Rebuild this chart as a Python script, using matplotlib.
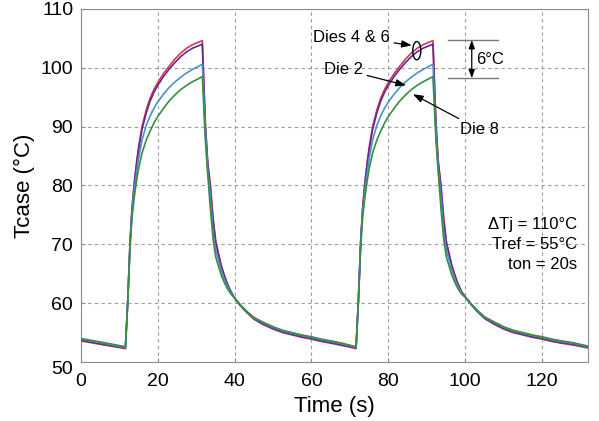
"""Case temperature of the dies during two power cycles (ton = 20 s)."""

import matplotlib

matplotlib.use("Agg")
import matplotlib.pyplot as plt
import matplotlib.transforms as mtransforms
from matplotlib.patches import Ellipse

plt.rcParams["font.family"] = ["Liberation Sans", "DejaVu Sans"]

# Colors
_RED = "#d8345a"
_PURPLE = "#5a2d8e"
_BLUE = "#4b93c6"
_GREEN = "#3a8c3e"
_GRID = "#9a9a9a"
_SPINE = "#8c8c8c"

# time (s)
time_s = [
    0, 6, 11.6, 12.2, 12.8, 13.3, 13.9, 14.5, 15.0, 15.9, 17.0, 18.0, 19.0, 20.0, 21.5,
    22.9, 24.5, 26.0, 27.5, 29.0, 30.5, 31.6, 32.0, 32.4, 33.0, 33.7, 34.4, 35.1, 36.5,
    37.2, 38.0, 39.0, 40.2, 41.5, 43, 45, 47, 50, 52.5, 55, 57.5, 60, 62.5, 65, 68,
    71.6, 72.2, 72.8, 73.3, 73.9, 74.5, 75.0, 75.9, 77, 78, 79, 80, 81.5, 82.9, 84.5,
    86, 87.5, 89, 90.5, 91.6, 92.0, 92.4, 93.0, 93.7, 94.4, 95.1, 96.5, 97.2, 98, 99,
    100.2, 101.5, 103, 105, 107, 110, 112.5, 115, 117.5, 120, 122.5, 125, 128, 132,
]

# Tcase (°C) per die
die_red = [
    53.6, 52.9, 52.3, 60.5, 70.5, 76.0, 80.5, 84.0, 86.5, 90.0, 92.8, 94.8, 96.3, 97.5, 99.0,
    100.2, 101.5, 102.5, 103.3, 103.9, 104.3, 104.6, 97.5, 90.5, 84.0, 80.0, 74.5, 70.5, 66.5,
    65.0, 63.5, 62.0, 60.7, 59.6, 58.5, 57.3, 56.5, 55.6, 55.0, 54.6, 54.2, 53.9, 53.5, 53.2, 52.8,
    52.3, 60.5, 70.5, 76.0, 80.5, 84.0, 86.5, 90.0, 92.8, 94.8, 96.3, 97.5, 99.0, 100.2, 101.5,
    102.5, 103.3, 103.9, 104.3, 104.6, 97.5, 90.5, 84.0, 80.0, 74.5, 70.5, 66.5, 65.0, 63.5, 62.0,
    60.9, 59.8, 58.7, 57.4, 56.6, 55.6, 55.0, 54.6, 54.2, 53.9, 53.5, 53.2, 52.9, 52.4,
]
die_purple = [
    53.7, 53.0, 52.4, 60.5, 70.5, 76.0, 80.3, 83.6, 86.0, 89.5, 92.3, 94.3, 95.8, 97.0, 98.5,
    99.7, 100.9, 101.9, 102.7, 103.3, 103.7, 104.0, 97.0, 90.0, 83.7, 79.6, 74.0, 70.2, 66.3,
    64.9, 63.4, 62.0, 60.7, 59.6, 58.6, 57.4, 56.6, 55.7, 55.1, 54.7, 54.3, 54.0, 53.6, 53.3, 52.9,
    52.4, 60.5, 70.5, 76.0, 80.3, 83.6, 86.0, 89.5, 92.3, 94.3, 95.8, 97.0, 98.5, 99.7, 100.9,
    101.9, 102.7, 103.3, 103.7, 104.0, 97.0, 90.0, 83.7, 79.6, 74.0, 70.2, 66.3, 64.9, 63.4, 62.0,
    60.9, 59.8, 58.7, 57.5, 56.7, 55.7, 55.1, 54.7, 54.3, 54.0, 53.6, 53.3, 53.0, 52.5,
]
die_blue = [
    53.9, 53.2, 52.5, 60.3, 70.0, 75.5, 79.2, 82.2, 84.5, 87.7, 90.2, 91.8, 93.1, 94.2, 95.5,
    96.6, 97.6, 98.4, 99.1, 99.7, 100.2, 100.6, 95.0, 89.0, 82.8, 78.0, 72.0, 69.0, 65.6,
    64.3, 63.0, 61.8, 60.7, 59.7, 58.7, 57.5, 56.8, 55.9, 55.3, 54.9, 54.5, 54.2, 53.8, 53.5, 53.1,
    52.5, 60.3, 70.0, 75.5, 79.2, 82.2, 84.5, 87.7, 90.2, 91.8, 93.1, 94.2, 95.5, 96.6, 97.6,
    98.4, 99.1, 99.7, 100.2, 100.6, 95.0, 89.0, 82.8, 78.0, 72.0, 69.0, 65.6, 64.3, 63.0, 61.8,
    60.9, 59.9, 58.8, 57.6, 56.9, 55.9, 55.3, 54.9, 54.5, 54.2, 53.8, 53.5, 53.2, 52.6,
]
die_green = [
    54.0, 53.3, 52.6, 60.0, 69.5, 74.5, 78.0, 80.8, 82.8, 85.5, 87.7, 89.2, 90.6, 91.7, 93.1,
    94.3, 95.4, 96.3, 97.0, 97.6, 98.1, 98.5, 93.0, 87.5, 82.0, 76.0, 70.8, 67.8, 64.8,
    63.7, 62.6, 61.6, 60.7, 59.7, 58.7, 57.6, 56.9, 56.0, 55.4, 55.0, 54.6, 54.3, 53.9, 53.6, 53.2,
    52.6, 60.0, 69.5, 74.5, 78.0, 80.8, 82.8, 85.5, 87.7, 89.2, 90.6, 91.7, 93.1, 94.3, 95.4,
    96.3, 97.0, 97.6, 98.1, 98.5, 93.0, 87.5, 82.0, 76.0, 70.8, 67.8, 64.8, 63.7, 62.6, 61.6,
    60.9, 59.9, 58.9, 57.7, 57.0, 56.0, 55.4, 55.0, 54.6, 54.3, 53.9, 53.6, 53.3, 52.7,
]

x_ticks = [0, 20, 40, 60, 80, 100, 120]
y_ticks = [50, 60, 70, 80, 90, 100, 110]

conditions = ["\u0394Tj = 110\u00b0C", "Tref = 55\u00b0C", "ton = 20s"]

fig = plt.figure(figsize=(5.99, 4.21), dpi=100)
ax = fig.add_axes([0.135, 0.140, 0.847, 0.839])

for values, color in ((die_red, _RED), (die_purple, _PURPLE), (die_blue, _BLUE), (die_green, _GREEN)):
    ax.plot(time_s, values, color=color, linewidth=1.2, zorder=3)

ax.set_xlim(0, 132)
ax.set_ylim(50, 110)
ax.set_xticks(x_ticks)
ax.set_yticks(y_ticks)
ax.grid(True, color=_GRID, linestyle=(0, (3, 3)), linewidth=0.8)
for spine in ax.spines.values():
    spine.set_color(_SPINE)
ax.tick_params(direction="in", length=3, color=_SPINE, labelsize=14)
ax.tick_params(axis="x", pad=8)
ax.tick_params(axis="y", pad=5.5)
ax.set_xlabel("Time (s)", fontsize=16, labelpad=4)
ax.set_ylabel("Tcase (\u00b0C)", fontsize=16, labelpad=4)

# the bottom y label sits a little below the axis corner in the reference
fig.canvas.draw()
bottom_label = ax.get_yticklabels()[0]
bottom_label.set_transform(bottom_label.get_transform()
                           + mtransforms.ScaledTranslation(0, -4 / 72, fig.dpi_scale_trans))

# die labels
arrow = dict(arrowstyle="-|>,head_length=0.5,head_width=0.18", color="black", linewidth=0.9,
             shrinkA=1, shrinkB=0)
ax.annotate("Dies 4 & 6", xy=(86.1, 103.8), xytext=(80.4, 105.2), ha="right", va="center",
            fontsize=12, arrowprops=arrow)
ax.add_patch(Ellipse((87.4, 102.9), width=2.1, height=3.1, facecolor="none", edgecolor="black",
                     linewidth=1.0, zorder=4))
ax.annotate("Die 2", xy=(84.6, 97.0), xytext=(73.4, 99.7), ha="right", va="center",
            fontsize=12, arrowprops=arrow)
ax.annotate("Die 8", xy=(86.4, 95.5), xytext=(98.6, 89.5), ha="left", va="center",
            fontsize=12, arrowprops=arrow)

# 6°C bracket
ax.plot([95.5, 108.5], [104.7, 104.7], color="#7a7a7a", linewidth=1.0)
ax.plot([95.5, 108.5], [98.2, 98.2], color="#7a7a7a", linewidth=1.0)
ax.annotate("", xy=(101.7, 104.7), xytext=(101.7, 98.2),
            arrowprops=dict(arrowstyle="<|-|>,head_length=0.5,head_width=0.18", color="black",
                            linewidth=0.9, shrinkA=0, shrinkB=0))
ax.text(102.8, 101.4, "6\u00b0C", ha="left", va="center", fontsize=12)

for i, line in enumerate(conditions):
    ax.text(129.0, 73.3 - i * 3.4, line, ha="right", va="center", fontsize=12)

fig.savefig("out.png", dpi=100)
